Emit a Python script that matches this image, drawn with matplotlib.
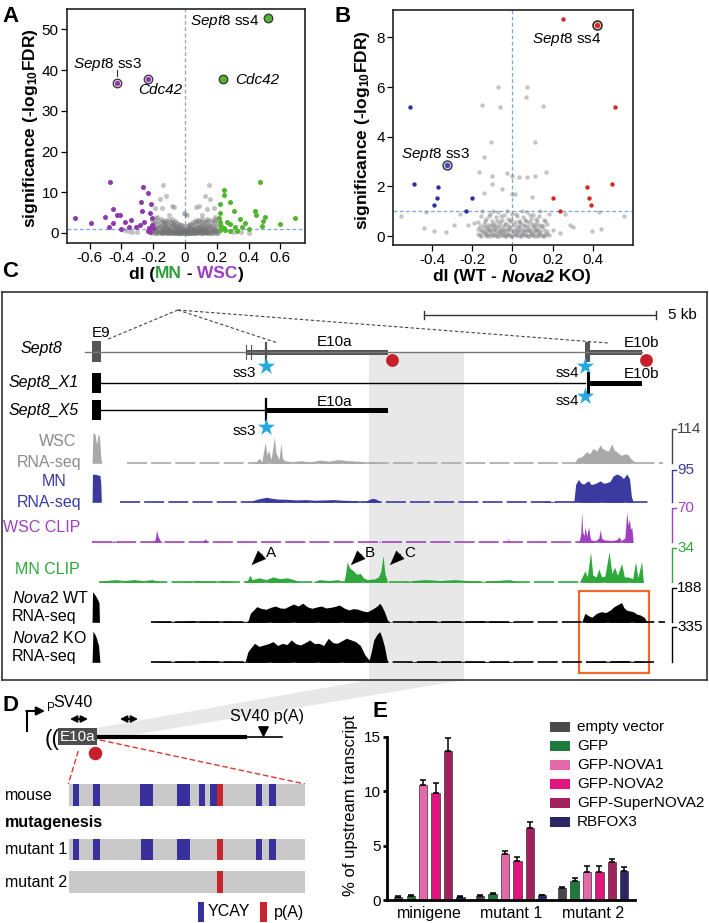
import matplotlib
matplotlib.use('Agg')
import matplotlib.pyplot as plt
from matplotlib.patches import Rectangle, Polygon
from matplotlib.offsetbox import TextArea, HPacker, AnnotationBbox

plt.rcParams['font.family'] = ['Liberation Sans', 'DejaVu Sans']
plt.rcParams['mathtext.fontset'] = 'custom'
plt.rcParams['mathtext.rm'] = 'Liberation Sans'
plt.rcParams['mathtext.it'] = 'Liberation Sans:italic'
plt.rcParams['mathtext.bf'] = 'Liberation Sans:bold'
plt.rcParams['axes.unicode_minus'] = False

PURPLE = '#8e3aad'
GREEN = '#52b52f'
RED = '#d22a1f'
BLUE = '#2d2f9a'
DASH = '#7ea6d8'

# ---------------- panel A: dI (MN - WSC) vs significance ----------------
a_purple_x = [-0.69, -0.59, -0.47, -0.50, -0.48, -0.45, -0.45, -0.43, -0.41, -0.40, -0.375, -0.354, -0.34, -0.31,
              -0.285, -0.277, -0.27, -0.264, -0.256, -0.233, -0.228, -0.218, -0.212, -0.208, -0.208, -0.20, -0.218, -0.233]
a_purple_y = [3.6, 2.4, 12.6, 4.0, 1.55, 5.8, 2.5, 4.3, 4.3, 0.9, 2.6, 1.4, 3.2, 1.4,
              2.0, 7.5, 5.5, 11.2, 2.8, 9.9, 1.15, 4.8, 7.1, 3.6, 2.0, 1.15, 0.3, 0.5]
a_green_x = [0.474, 0.247, 0.247, 0.281, 0.218, 0.306, 0.218, 0.442, 0.448, 0.505, 0.348, 0.264, 0.285, 0.38, 0.49,
             0.484, 0.222, 0.226, 0.243, 0.317, 0.358, 0.40, 0.60, 0.694, 0.212, 0.218, 0.254, 0.285, 0.327]
a_green_y = [12.6, 10.6, 9.3, 7.5, 7.1, 5.5, 5.0, 5.5, 4.4, 4.0, 3.4, 2.8, 2.2, 2.5, 3.0,
             1.7, 2.8, 1.7, 1.15, 1.4, 1.4, 0.9, 2.2, 3.6, 3.6, 0.74, 0.74, 0.57, 0.57]
a_sparse_x = [-0.14, -0.12, -0.155, -0.082, -0.067, -0.187, -0.145, -0.10, 0.149, 0.128, 0.159, 0.086, 0.071, 0.18,
              0.138, 0.107, -0.004, 0.013, -0.176, 0.19, 0.40, -0.386, -0.333, 0.3, 0.35, -0.3, -0.36]
a_sparse_y = [11.8, 9.1, 8.3, 6.6, 6.3, 6.1, 6.1, 4.4, 11.8, 9.1, 8.3, 6.6, 6.3, 6.1,
              5.8, 4.4, 4.8, 4.4, 4.0, 4.0, 0.0, 0.74, 0.33, 0.3, 0.2, 0.25, 0.4]
a_core_x = [-0.21, -0.19, -0.18, -0.165, -0.15, -0.14, -0.13, -0.12, -0.11, -0.1, -0.09, -0.08, -0.07, -0.06, -0.05,
            -0.04, -0.03, -0.02, -0.01, 0.0, 0.01, 0.02, 0.03, 0.04, 0.05, 0.06, 0.07, 0.08, 0.09, 0.1, 0.11, 0.12,
            0.13, 0.14, 0.15, 0.165, 0.18, 0.19, 0.21]
a_core_x2 = [-0.2, -0.185, -0.17, -0.155, -0.145, -0.135, -0.125, -0.115, -0.105, -0.095, -0.085, -0.075, -0.065,
             -0.055, -0.045, -0.035, -0.025, -0.015, -0.005, 0.005, 0.015, 0.025, 0.035, 0.045, 0.055, 0.065, 0.075,
             0.085, 0.095, 0.105, 0.115, 0.125, 0.135, 0.145, 0.155, 0.17, 0.185, 0.2, 0.22]
a_core_y1 = [0.6, 1.0, 0.3, 0.8, 0.5, 1.2, 0.4, 0.9, 0.2, 0.7, 0.3, 1.1, 0.5, 0.2, 0.8, 0.4, 0.1, 0.6, 0.3, 0.2,
             0.1, 0.3, 0.5, 0.2, 0.7, 0.4, 0.9, 0.3, 0.6, 1.0, 0.4, 0.8, 0.3, 1.1, 0.5, 0.9, 0.4, 0.7, 1.0]
a_core_y2 = [1.8, 2.4, 1.5, 2.1, 1.7, 2.6, 1.4, 2.2, 1.9, 1.3, 2.5, 1.6, 2.0, 1.2, 1.8, 1.5, 1.1, 1.3, 1.0, 0.8,
             0.9, 1.2, 1.4, 1.0, 1.6, 1.3, 2.1, 1.5, 1.9, 1.2, 2.3, 1.7, 2.4, 1.4, 2.0, 1.6, 2.7, 1.8, 2.2]
a_core_y3 = [3.2, 2.8, 3.6, 2.9, 3.4, 3.0, 2.7, 3.3, 2.6, 3.1, 2.8, 3.5, 2.6, 2.9, 2.4, 2.2, 2.0, 1.9, 1.7, 4.6,
             1.8, 1.9, 2.1, 2.3, 2.6, 2.8, 3.3, 2.9, 3.1, 2.7, 3.4, 2.6, 2.9, 3.5, 3.0, 3.2, 2.8, 3.4, 3.1]
a_core_y4 = [0.0, 0.1, 0.0, 0.2, 0.05, 0.1, 0.0, 0.15, 0.05, 0.0, 0.1, 0.05, 0.0, 0.1, 0.05, 0.0, 0.02, 0.0, 0.05, 0.0,
             0.03, 0.0, 0.06, 0.0, 0.1, 0.02, 0.08, 0.0, 0.12, 0.05, 0.0, 0.1, 0.05, 0.15, 0.0, 0.1, 0.05, 0.2, 0.0]
a_core_y5 = [0.4, 0.7, 1.4, 0.3, 0.9, 0.6, 1.7, 0.35, 1.0, 0.5, 0.8, 0.3, 1.5, 0.6, 0.25, 0.9, 0.4, 0.7, 0.15, 0.5,
             0.3, 0.8, 0.2, 1.3, 0.45, 0.6, 0.2, 1.0, 0.35, 0.7, 1.4, 0.5, 0.9, 0.3, 1.2, 0.6, 1.0, 0.4, 0.8]
a_core_y6 = [2.2, 1.2, 0.1, 1.6, 0.0, 2.0, 0.3, 1.3, 0.05, 1.7, 0.2, 2.1, 0.0, 1.4, 0.1, 0.6, 0.0, 0.25, 0.4, 0.0,
             0.6, 0.1, 0.9, 0.05, 1.1, 0.0, 1.5, 0.15, 1.8, 0.0, 1.2, 0.2, 1.6, 0.05, 2.0, 0.1, 1.4, 0.0, 1.9]
# labelled events: x, y, fill, ring
a_hits = {'Sept8 ss4': (0.524, 52.9, GREEN, GREEN), 'Cdc42 up': (0.241, 37.8, GREEN, GREEN),
          'Sept8 ss3': (-0.43, 36.8, PURPLE, '#e3cdee'), 'Cdc42 down': (-0.231, 37.8, PURPLE, '#e3cdee')}

# ---------------- panel B: dI (WT - Nova2 KO) ----------------
b_red_x = [0.25, 0.51, 0.497, 0.37, 0.38, 0.39, 0.20, 0.235]
b_red_y = [8.74, 5.2, 2.09, 1.96, 1.54, 1.24, 1.54, 1.02]
b_blue_x = [-0.508, -0.49, -0.37, -0.378, -0.39, -0.20, -0.23]
b_blue_y = [5.2, 2.09, 1.96, 1.54, 1.24, 1.54, 1.02]
b_ss4 = (0.42, 8.48)
b_ss3 = (-0.325, 2.86)
b_sparse_x = [-0.07, 0.072, 0.068, -0.15, -0.062, 0.153, -0.108, 0.113, -0.143, -0.165, -0.103, -0.028, -0.003,
              0.03, 0.072, 0.11, 0.168, -0.103, -0.143, -0.05, -0.003, 0.013, 0.097, -0.553, -0.43, -0.44, -0.39,
              -0.29, -0.19, 0.397, 0.443, 0.555, 0.288, 0.235, 0.43, -0.26, -0.22, 0.26, 0.3, -0.33, 0.2]
b_sparse_y = [5.99, 5.99, 5.61, 5.26, 5.2, 5.25, 3.8, 3.8, 3.18, 2.59, 2.43, 2.52, 2.43,
              2.39, 2.39, 2.43, 2.58, 2.09, 1.72, 1.88, 1.69, 1.69, 1.56, 0.82, 0.95, 0.31, 0.21,
              0.44, 0.51, 0.2, 0.3, 0.82, 0.44, 0.13, 0.95, 0.9, 0.45, 0.9, 0.35, 0.15, 0.25]
b_core_x = [-0.17, -0.155, -0.14, -0.13, -0.12, -0.11, -0.1, -0.09, -0.08, -0.07, -0.06, -0.05, -0.04, -0.03, -0.02,
            -0.01, 0.0, 0.01, 0.02, 0.03, 0.04, 0.05, 0.06, 0.07, 0.08, 0.09, 0.1, 0.11, 0.12, 0.13, 0.14, 0.155, 0.17]
b_core_x2 = [-0.16, -0.15, -0.135, -0.125, -0.115, -0.105, -0.095, -0.085, -0.075, -0.065, -0.055, -0.045, -0.035,
             -0.025, -0.015, -0.005, 0.005, 0.015, 0.025, 0.035, 0.045, 0.055, 0.065, 0.075, 0.085, 0.095, 0.105,
             0.115, 0.125, 0.135, 0.15, 0.16, 0.18]
b_core_y1 = [0.1, 0.0, 0.15, 0.05, 0.1, 0.0, 0.2, 0.05, 0.1, 0.0, 0.15, 0.05, 0.1, 0.0, 0.1, 0.05, 0.0, 0.1, 0.05,
             0.15, 0.0, 0.1, 0.05, 0.2, 0.0, 0.1, 0.05, 0.15, 0.0, 0.1, 0.05, 0.0, 0.1]
b_core_y2 = [0.3, 0.25, 0.35, 0.2, 0.3, 0.25, 0.4, 0.3, 0.2, 0.35, 0.25, 0.3, 0.2, 0.3, 0.25, 0.35, 0.2, 0.3, 0.25,
             0.35, 0.3, 0.2, 0.4, 0.25, 0.3, 0.2, 0.35, 0.25, 0.3, 0.2, 0.35, 0.25, 0.2]
b_core_y3 = [0.55, 0.8, 0.5, 0.7, 0.45, 0.9, 0.6, 0.5, 0.75, 0.95, 0.55, 0.65, 0.85, 0.5, 0.7, 0.6, 0.9, 0.55, 0.8,
             0.6, 0.5, 0.75, 0.65, 0.95, 0.55, 0.7, 0.85, 0.5, 0.6, 0.8, 0.45, 0.65, 0.5]
b_core_y4 = [0.05, 0.2, 0.1, 0.0, 0.25, 0.1, 0.05, 0.3, 0.0, 0.15, 0.05, 0.2, 0.0, 0.1, 0.3, 0.0, 0.15, 0.05, 0.2,
             0.0, 0.1, 0.25, 0.05, 0.0, 0.2, 0.1, 0.0, 0.25, 0.05, 0.15, 0.0, 0.1, 0.05]
b_core_y5 = [0.4, 1.0, 0.6, 0.35, 0.8, 0.45, 1.0, 0.4, 0.6, 0.45, 0.8, 0.4, 0.5, 1.0, 0.4, 0.65, 0.45, 0.9, 0.4,
             0.55, 1.0, 0.45, 0.6, 0.4, 0.85, 0.5, 0.4, 0.7, 0.45, 1.0, 0.4, 0.6, 0.9]

# ---------------- panel C: Sept8 locus (positions in kb from E9) ----------------
kb_e9 = (0.0, 0.19)
kb_e10a = (3.32, 6.38)
kb_alt = [3.32, 3.43]
kb_ss3 = 3.75
kb_ss4 = 10.63
kb_e10b = (10.73, 11.85)
kb_pa = [6.47, 11.93]
kb_shade = (5.97, 8.02)
kb_box = (10.5, 12.0)
kb_scale = (7.16, 12.16)
kb_arrows = {'A': 3.44, 'B': 5.58, 'C': 6.42}

wsc_rna_pos = [0.0, 0.02, 0.06, 0.1, 0.13, 0.16, 0.19, 0.21,
               3.45, 3.55, 3.6, 3.66, 3.73, 3.77, 3.8, 3.86, 3.93, 3.96, 3.99, 4.03, 4.07, 4.1, 4.15, 4.3, 4.5,
               4.7, 4.9, 5.1, 5.3, 5.5, 5.7, 5.9, 6.1, 6.25,
               10.4, 10.45, 10.55, 10.66, 10.72, 10.8, 10.87, 10.95, 11.0, 11.06, 11.12, 11.2, 11.25, 11.3, 11.4,
               11.49, 11.55, 11.62, 11.66, 11.74]
wsc_rna_val = [0, 114, 112, 70, 110, 100, 20, 0,
               0, 8, 19, 6, 80, 30, 50, 15, 100, 40, 30, 15, 76, 20, 10, 6, 10, 5, 12, 8, 14, 10, 8, 6, 5, 0,
               0, 19, 25, 44, 35, 57, 45, 69, 55, 50, 45, 73, 50, 44, 30, 36, 32, 15, 10, 0]
mn_rna_pos = [0.0, 0.01, 0.1, 0.17, 0.19, 0.2,
              3.42, 3.5, 3.6, 3.7, 3.76, 3.85, 4.0, 4.2, 4.4, 4.6, 4.8, 5.0, 5.2, 5.4, 5.6, 5.8, 5.86, 5.92, 6.0,
              6.08, 6.15, 6.21,
              9.72, 9.75, 10.0, 10.02,
              10.38, 10.42, 10.48, 10.53, 10.59, 10.65, 10.7, 10.75, 10.8, 10.88, 10.95, 11.02, 11.09, 11.16,
              11.23, 11.31, 11.38, 11.45, 11.52, 11.58, 11.62, 11.66]
mn_rna_val = [0, 95, 93, 90, 60, 0,
              0, 8, 12, 15, 17, 14, 11, 10, 8, 9, 7, 8, 9, 7, 6, 5, 0, 5, 12, 13, 8, 0,
              0, 3, 3, 0,
              0, 60, 77, 65, 61, 68, 72, 60, 61, 66, 72, 64, 66, 70, 89, 95, 90, 80, 95, 80, 20, 0]
wsc_clip_pos = [0.4, 0.46, 0.52, 1.3, 1.36, 1.39, 1.42, 1.47, 1.52, 2.38, 2.44, 2.5, 3.96, 3.98, 4.0, 5.36, 5.38,
                5.4, 6.18, 6.2, 6.22, 8.95, 8.97, 8.99,
                10.45, 10.5, 10.53, 10.55, 10.57, 10.6, 10.62, 10.66, 10.7, 10.73, 10.75, 10.85, 10.92, 10.95,
                10.98, 11.02, 11.2, 11.3, 11.36, 11.4, 11.48, 11.52, 11.55, 11.58, 11.6, 11.63, 11.66]
wsc_clip_val = [0, 4, 0, 0, 6, 29, 14, 4, 0, 0, 8, 0, 0, 3, 0, 0, 3, 0, 0, 4, 0, 0, 9, 0,
                0, 4, 20, 70, 25, 15, 35, 15, 36, 12, 5, 4, 10, 29, 10, 6, 4, 6, 12, 4, 10, 70, 40, 54, 30, 35, 0]
mn_clip_pos = [0.14, 0.3, 0.5, 0.7, 0.9, 1.1, 1.3, 1.48, 1.9, 2.2, 2.5, 2.8, 3.06, 3.3, 3.36, 3.4, 3.45, 3.6, 3.75,
               3.9, 4.05, 4.2, 4.35, 4.48, 4.74, 4.9, 5.1, 5.3, 5.42, 5.45, 5.5, 5.55, 5.63, 5.7, 5.78, 5.85, 5.93,
               6.1, 6.17, 6.22, 6.27, 6.31, 6.37, 6.7, 6.9, 7.2, 7.5, 7.8, 8.1, 8.4, 8.7, 9.0, 9.2,
               10.5, 10.55, 10.62, 10.67, 10.74, 10.79, 10.86, 10.92, 10.98, 11.05, 11.14, 11.2, 11.26, 11.32,
               11.41, 11.47, 11.55, 11.65, 11.71, 11.76, 11.84, 11.88]
mn_clip_val = [0, 2, 3, 2, 3, 2, 3, 0, 0, 2, 1, 2, 0, 0, 3, 8, 3, 5, 3, 6, 4, 5, 3, 0, 0, 3, 2, 3, 0, 6, 23, 16,
               13, 9, 10, 5, 3, 4, 6, 12, 30, 10, 0, 0, 2, 3, 2, 3, 2, 1, 2, 3, 0,
               0, 5, 13, 6, 34, 8, 6, 15, 6, 7, 34, 10, 17, 8, 21, 6, 6, 4, 23, 5, 23, 0]
wt_pos = [0.0, 0.01, 0.06, 0.12, 0.15, 0.16,
          1.28, 1.4, 1.6, 1.9, 2.2, 2.5, 2.8, 3.1, 3.36,
          3.41, 3.55, 3.65, 3.75, 3.85, 3.95, 4.05, 4.15, 4.25, 4.34, 4.44, 4.54, 4.64, 4.74, 4.84, 4.94, 5.04,
          5.14, 5.24, 5.33, 5.43, 5.53, 5.63, 5.73, 5.83, 5.93, 6.0, 6.07, 6.14, 6.2, 6.25, 6.3, 6.37, 6.45,
          6.72, 6.9, 7.2, 7.5, 7.8, 8.1, 8.4, 8.7, 9.0, 9.2,
          10.55, 10.62, 10.7, 10.77, 10.87, 10.97, 11.07, 11.17, 11.24, 11.31, 11.41, 11.46, 11.51, 11.58, 11.66,
          11.74, 11.81, 11.9, 11.96]
wt_val = [0, 188, 170, 140, 120, 0,
          0, 5, 8, 5, 10, 6, 9, 5, 6,
          55, 96, 85, 80, 92, 100, 88, 86, 100, 112, 100, 117, 95, 86, 94, 100, 88, 92, 98, 106, 88, 76, 84, 80,
          70, 65, 75, 86, 100, 117, 95, 65, 10, 0,
          0, 8, 10, 6, 9, 6, 10, 7, 5, 0,
          0, 55, 40, 31, 55, 65, 60, 76, 95, 106, 121, 90, 76, 70, 65, 50, 45, 30, 0]
ko_pos = [0.0, 0.02, 0.08, 0.14, 0.17,
          1.28, 1.5, 1.8, 2.1, 2.4, 2.7, 3.0, 3.3,
          3.36, 3.43, 3.5, 3.6, 3.7, 3.8, 3.9, 4.0, 4.1, 4.2, 4.29, 4.39, 4.49, 4.59, 4.69, 4.79, 4.89, 4.99,
          5.09, 5.19, 5.28, 5.38, 5.48, 5.58, 5.68, 5.78, 5.88, 5.97, 6.02, 6.07, 6.14, 6.2, 6.25, 6.3, 6.35, 6.37,
          6.7, 7.0, 7.3, 7.6, 7.9, 8.2, 8.6, 9.0, 9.2,
          10.6, 10.8, 11.0, 11.2, 11.4, 11.6, 11.8, 11.96]
ko_val = [0, 335, 280, 180, 0,
          0, 8, 12, 10, 20, 15, 8, 10,
          114, 160, 203, 170, 185, 200, 221, 180, 203, 190, 239, 200, 185, 210, 239, 200, 203, 180, 257, 210,
          203, 230, 257, 240, 221, 180, 78, 25, 120, 239, 300, 328, 260, 168, 40, 0,
          0, 10, 15, 8, 12, 10, 8, 10, 0,
          0, 10, 14, 10, 18, 12, 10, 0]

# ---------------- panel D: minigene stripes (% of fragment) ----------------
d_rows = ['mouse', 'mutant 1', 'mutant 2']
ycay_mouse = [(1.6, 2.6), (10.3, 2.8), (30.1, 5.4), (45.9, 5.4), (55.1, 2.5), (59.7, 2.9), (79.1, 2.8), (84.9, 2.8)]
ycay_mut1 = [(1.6, 2.6), (10.3, 2.8), (30.5, 5.0), (45.9, 5.4), (79.1, 2.8), (84.9, 2.8)]
ycay_mut2 = []
pa_site = [(62.6, 2.8)]

# ---------------- panel E: % of upstream transcript ----------------
e_groups = ['minigene', 'mutant 1', 'mutant 2']
e_series = ['empty vector', 'GFP', 'GFP-NOVA1', 'GFP-NOVA2', 'GFP-SuperNOVA2', 'RBFOX3']
e_colors = ['#4a4a4a', '#1d7a3c', '#e569a9', '#e2157f', '#a3215f', '#2b2766']
e_vals = [[0.30, 0.40, 1.13], [0.37, 0.55, 1.74], [10.55, 4.19, 2.54],
          [9.79, 3.61, 2.54], [13.67, 6.57, 3.46], [0.30, 0.43, 2.66]]
e_err = [[0.05, 0.08, 0.06], [0.05, 0.06, 0.25], [0.5, 0.35, 0.6],
         [0.97, 0.3, 0.6], [1.16, 0.6, 0.27], [0.04, 0.05, 0.34]]

W, H = 709, 923
fig = plt.figure(figsize=(W / 100, H / 100), dpi=100)


def box(x0, y0, x1, y1):
    return [x0 / W, 1 - y1 / H, (x1 - x0) / W, (y1 - y0) / H]


ov = fig.add_axes([0, 0, 1, 1])
ov.set_xlim(0, W)
ov.set_ylim(H, 0)
ov.axis('off')


def volcano_frame(ax, xt, yt):
    ax.patch.set_alpha(0)
    for s in ax.spines.values():
        s.set_linewidth(1.2)
        s.set_color('#222')
    ax.set_xticks(xt)
    ax.set_xticklabels([f'{v:g}' for v in xt])
    ax.set_yticks(yt)
    ax.set_yticklabels([f'{v:g}' for v in yt])
    ax.tick_params(labelsize=11, length=4, width=0.9, pad=2)
    ax.axhline(1, color=DASH, lw=0.9, ls=(0, (3, 2)), zorder=1)
    ax.axvline(0, color=DASH, lw=0.9, ls=(0, (3, 2)), zorder=1)


def colour_label(x, y, parts, size=12.5):
    boxes = [TextArea(t, textprops=dict(color=c, fontsize=size, fontweight='bold', fontstyle=st))
             for t, c, st in parts]
    pack = HPacker(children=boxes, align='baseline', pad=0, sep=0)
    ov.add_artist(AnnotationBbox(pack, (x, y), xycoords='data', frameon=False,
                                 box_alignment=(0.5, 0.5), pad=0))


# ---- A ----
axA = fig.add_axes(box(67, 9, 305, 243))
axA.set_xlim(-0.742, 0.755)
axA.set_ylim(-2.46, 55.0)
volcano_frame(axA, [-0.6, -0.4, -0.2, 0, 0.2, 0.4, 0.6], [0, 10, 20, 30, 40, 50])
gray_kw = dict(s=13, c='#727272', alpha=0.42, linewidths=0, zorder=2)
axA.scatter(a_sparse_x, a_sparse_y, **gray_kw)
for ys in (a_core_y1, a_core_y2, a_core_y3, a_core_y4):
    axA.scatter(a_core_x, ys, **gray_kw)
for ys in (a_core_y5, a_core_y6):
    axA.scatter(a_core_x2, ys, **gray_kw)
axA.scatter(a_purple_x, a_purple_y, s=13, c=PURPLE, linewidths=0, zorder=3)
axA.scatter(a_green_x, a_green_y, s=13, c=GREEN, linewidths=0, zorder=3)
for name, (x, y, c, ring) in a_hits.items():
    axA.scatter([x], [y], s=38, c=ring, edgecolors='#333', linewidths=0.9, zorder=4)
    axA.scatter([x], [y], s=14, c=c, linewidths=0, zorder=5)
axA.plot([-0.43, -0.43], [38.5, 40.0], color='#333', lw=0.8)
axA.text(0.47, 51.9, r'$\mathit{Sept8}$ ss4', fontsize=11, ha='right', va='center')
axA.text(-0.487, 41.3, r'$\mathit{Sept8}$ ss3', fontsize=11, ha='center', va='center')
axA.text(-0.154, 35.0, 'Cdc42', fontsize=11, fontstyle='italic', ha='center', va='center')
axA.text(0.314, 37.6, 'Cdc42', fontsize=11, fontstyle='italic', ha='left', va='center')

# ---- B ----
axB = fig.add_axes(box(393, 10, 633, 245))
axB.set_xlim(-0.595, 0.6)
axB.set_ylim(-0.36, 9.1)
volcano_frame(axB, [-0.4, -0.2, 0, 0.2, 0.4], [0, 2, 4, 6, 8])
gray_kw = dict(s=10, c='#8a8a8a', alpha=0.5, linewidths=0, zorder=2)
axB.scatter(b_sparse_x, b_sparse_y, **gray_kw)
for ys in (b_core_y1, b_core_y2, b_core_y3):
    axB.scatter(b_core_x, ys, **gray_kw)
for ys in (b_core_y4, b_core_y5):
    axB.scatter(b_core_x2, ys, **gray_kw)
axB.scatter(b_red_x, b_red_y, s=10, c=RED, linewidths=0, zorder=3)
axB.scatter(b_blue_x, b_blue_y, s=10, c=BLUE, linewidths=0, zorder=3)
axB.scatter([b_ss4[0]], [b_ss4[1]], s=42, c='#f2c2bc', edgecolors='#222', linewidths=1.1, zorder=4)
axB.scatter([b_ss4[0]], [b_ss4[1]], s=14, c=RED, linewidths=0, zorder=5)
axB.scatter([b_ss3[0]], [b_ss3[1]], s=42, c='#c9cbee', edgecolors='#333', linewidths=1.0, zorder=4)
axB.scatter([b_ss3[0]], [b_ss3[1]], s=14, c='#4448a8', linewidths=0, zorder=5)
axB.text(0.268, 7.92, r'$\mathit{Sept8}$ ss4', fontsize=11, ha='center', va='center')
axB.text(-0.382, 3.3, r'$\mathit{Sept8}$ ss3', fontsize=11, ha='center', va='center')

ylab = r'significance (-log$_{\mathbf{10}}$FDR)'
ov.text(31, 128, ylab, rotation=90, fontsize=12.5, fontweight='bold', ha='center', va='center')
ov.text(362, 130, ylab, rotation=90, fontsize=12.5, fontweight='bold', ha='center', va='center')
colour_label(186, 274, [('dI (', 'k', 'normal'), ('MN', '#2e9e3e', 'normal'), (' -', 'k', 'normal'),
                        (' WSC', '#9b3fbf', 'normal'), (')', 'k', 'normal')])
colour_label(512, 277, [('dI (WT -', 'k', 'normal'), (' Nova2', 'k', 'italic'), (' KO)', 'k', 'normal')])

# ---- C ----
c_xlim = (-1.94, 13.25)
axc = fig.add_axes(box(2, 292, 707, 680))
axc.set_xlim(*c_xlim)
axc.set_ylim(680, 292)
axc.set_xticks([])
axc.set_yticks([])
axc.patch.set_alpha(0)
for s in axc.spines.values():
    s.set_linewidth(1.2)
    s.set_color('#333')
axc.add_patch(Rectangle((kb_shade[0], 352), kb_shade[1] - kb_shade[0], 330, fc='#e8e8e8', ec='none', zorder=0))
# scale bar
axc.plot(kb_scale, [315, 315], color='#333', lw=1)
for k in kb_scale:
    axc.plot([k, k], [311, 319], color='#333', lw=1)
# dashed zoom lines
for ex, ey in [(0.3, 340), (4.0, 343), (11.12, 343)]:
    axc.plot([1.85, ex], [310, ey], color='#444', lw=0.8, ls=(0, (3, 2)))
# Sept8 model
G = '#555555'
axc.plot([-0.15, kb_e10b[1]], [352, 352], color='#777', lw=1)
axc.add_patch(Rectangle((kb_e9[0], 341), kb_e9[1] - kb_e9[0], 21, fc=G, ec='none'))
for k in kb_alt:
    axc.plot([k, k], [345, 359], color=G, lw=0.8)
axc.plot([kb_ss3, kb_ss3], [343, 361], color=G, lw=1.6)
axc.add_patch(Rectangle((kb_e10a[0], 349.5), kb_e10a[1] - kb_e10a[0], 5.5, fc=G, ec='none'))
axc.add_patch(Rectangle((kb_ss4, 342), kb_e10b[0] - kb_ss4, 20, fc=G, ec='none'))
axc.add_patch(Rectangle((kb_e10b[0], 349.5), kb_e10b[1] - kb_e10b[0], 5.5, fc=G, ec='none'))
axc.scatter(kb_pa, [360, 360], s=85, c='#c8202a', linewidths=0, zorder=5)
# Sept8_X1
axc.plot([kb_e9[1], kb_ss4], [383, 383], color='k', lw=1)
axc.add_patch(Rectangle((kb_e9[0], 373), kb_e9[1] - kb_e9[0], 20, fc='k', ec='none'))
axc.plot([kb_ss4 + 0.05, kb_ss4 + 0.05], [373, 392], color='k', lw=2.2)
axc.add_patch(Rectangle((kb_e10b[0], 381), kb_e10b[1] - kb_e10b[0], 4.5, fc='k', ec='none'))
# Sept8_X5
axc.plot([kb_e9[1], kb_ss3], [410, 410], color='k', lw=1)
axc.add_patch(Rectangle((kb_e9[0], 400), kb_e9[1] - kb_e9[0], 20, fc='k', ec='none'))
axc.plot([kb_ss3, kb_ss3], [399, 420], color='k', lw=1.6)
axc.add_patch(Rectangle((kb_ss3, 408), kb_e10a[1] - kb_ss3, 4.5, fc='k', ec='none'))
axc.scatter([kb_ss3, kb_ss4, kb_ss4, kb_ss3], [366, 366, 396, 427], marker='*', s=170,
            c='#26a9dc', linewidths=0, zorder=6)
for txt, x, y in [('E9', 0.19, 333), ('E10a', 5.23, 342), ('E10b', 11.83, 343), ('E10b', 11.83, 374),
                  ('E10a', 5.23, 402), ('ss3', 3.28, 373), ('ss4', 10.25, 373), ('ss4', 10.25, 401),
                  ('ss3', 3.28, 431)]:
    axc.text(x, y, txt, fontsize=11, ha='center', va='center')
axc.add_patch(Rectangle((kb_box[0], 591), kb_box[1] - kb_box[0], 82, fill=False, ec='#ee6a2c', lw=1.6, zorder=5))
for lab, k in kb_arrows.items():
    axc.annotate('', xy=(k, 565), xytext=(k + 0.24, 554),
                 arrowprops=dict(arrowstyle='-|>,head_length=1.0,head_width=0.4', fc='k', ec='k', lw=0.3,
                                 shrinkA=0, shrinkB=0))
    axc.text(k + 0.3, 553, lab, fontsize=11, ha='left', va='center')

tracks = [
    (wsc_rna_pos, wsc_rna_val, 114, '#a9a9a9', '#444444', 433, 463.3, (0.75, 12.3)),
    (mn_rna_pos, mn_rna_val, 95, '#3b3aa0', '#3b3aa0', 474, 502.3, (0.6, 12.05)),
    (wsc_clip_pos, wsc_clip_val, 70, '#a040c0', '#a040c0', 512, 542.3, (0.0, 11.66)),
    (mn_clip_pos, mn_clip_val, 34, '#2ea83a', '#2ea83a', 552, 582.3, (0.14, 11.9)),
    (wt_pos, wt_val, 188, '#000000', '#000000', 591.7, 622.3, (1.28, 12.35)),
    (ko_pos, ko_val, 335, '#000000', '#000000', 631, 662.3, (1.28, 12.1)),
]
for pos, val, vmax, col, lcol, top, base, span in tracks:
    at = fig.add_axes(box(2, top, 707, base))
    at.set_xlim(*c_xlim)
    at.set_ylim(0, vmax)
    at.axis('off')
    at.fill_between(pos, val, 0, color=col, lw=0)
    at.plot(span, [0, 0], color=col, lw=1.2, ls=(0, (12, 2.5)), clip_on=False)
    ov.plot([672, 672, 676], [base, top - 4, top - 4], color=lcol, lw=1)
    ov.text(677, top - 4, str(vmax), color=lcol, fontsize=11, ha='left', va='center')

ov.text(668, 315, '5 kb', fontsize=11, ha='left', va='center')
ov.text(21, 348, 'Sept8', fontsize=11.5, fontstyle='italic', va='center')
ov.text(9, 383, 'Sept8_X1', fontsize=11.5, fontstyle='italic', va='center')
ov.text(9, 410, 'Sept8_X5', fontsize=11.5, fontstyle='italic', va='center')
for txt, x, y, ha, c in [('WSC', 58, 442, 'center', '#8a8a8a'), ('RNA-seq', 49, 462, 'center', '#8a8a8a'),
                         ('MN', 54, 482, 'center', '#3b3aa0'), ('RNA-seq', 49, 502, 'center', '#3b3aa0'),
                         ('WSC CLIP', 80, 527, 'right', '#a040c0'), ('MN CLIP', 80, 570, 'right', '#2ea83a'),
                         (r'$\mathit{Nova2}$ WT', 12, 598, 'left', 'k'), ('RNA-seq', 12, 617, 'left', 'k'),
                         (r'$\mathit{Nova2}$ KO', 12, 638, 'left', 'k'), ('RNA-seq', 12, 657, 'left', 'k')]:
    ov.text(x, y, txt, fontsize=11.5, ha=ha, va='center', color=c)

# ---- D ----
ov.add_patch(Polygon([(369, 680), (464, 680), (96.7, 741), (96.7, 728)], closed=True, fc='#e8e8e8', ec='none',
                     zorder=0))
ov.plot([27, 27], [731, 711], color='k', lw=1.5)
ov.annotate('', xy=(45, 711), xytext=(26.3, 711),
            arrowprops=dict(arrowstyle='-|>,head_length=0.5,head_width=0.25', color='k', lw=1.5,
                            shrinkA=0, shrinkB=0))
ov.text(47, 711, 'P', fontsize=8.5, va='baseline')
ov.text(53.5, 707, 'SV40', fontsize=11.5, va='baseline')
for xc in (79, 129):
    ov.annotate('', xy=(xc + 9, 719), xytext=(xc - 9, 719),
                arrowprops=dict(arrowstyle='<|-|>,head_length=0.4,head_width=0.2', color='k', lw=1.3,
                                shrinkA=0, shrinkB=0))
ov.text(52, 740, '((', fontsize=16, ha='center', va='center')
ov.add_patch(Rectangle((58.3, 728.3), 38.4, 16.7, fc='#4d4d4d', ec='none', zorder=3))
ov.text(77.5, 737, 'E10a', color='white', fontsize=11, ha='center', va='center', zorder=4)
ov.plot([96.7, 247], [737, 737], color='k', lw=3, solid_capstyle='butt')
ov.plot([247, 282], [737, 737], color='k', lw=1.2)
ov.scatter([263.3], [731], marker='v', s=45, c='k', zorder=4)
ov.text(267, 717, 'SV40 p(A)', fontsize=11.5, ha='center', va='center')
ov.scatter([95], [753], s=95, c='#c8202a', linewidths=0, zorder=4)
ov.plot([78.3, 68.3], [751, 784], color='#d63a30', lw=1, ls=(0, (4, 2)))
ov.plot([100, 305], [740, 784], color='#d63a30', lw=1, ls=(0, (4, 2)))

axd = fig.add_axes(box(69, 780, 305, 896))
axd.set_xlim(0, 100)
axd.set_ylim(896, 780)
axd.axis('off')
d_row_y = [794.8, 849.5, 881.7]
for yc, ycay in zip(d_row_y, [ycay_mouse, ycay_mut1, ycay_mut2]):
    axd.broken_barh([(0, 100)], (yc - 10.8, 21.6), facecolors='#c9c9c9')
    if ycay:
        axd.broken_barh(ycay, (yc - 10.8, 21.6), facecolors='#3a309c')
    axd.broken_barh(pa_site, (yc - 10.8, 21.6), facecolors='#c8262c')
for name, yc in zip(d_rows, d_row_y):
    ov.text(5, yc + 0.5, name, fontsize=11.5, va='center')
ov.text(5, 823, 'mutagenesis', fontsize=11.5, fontweight='bold', va='center')
ov.add_patch(Rectangle((198, 902), 5.5, 20, fc='#3a309c', ec='none'))
ov.text(208, 912, 'YCAY', fontsize=11.5, va='center')
ov.add_patch(Rectangle((260, 902), 6.5, 20, fc='#c8262c', ec='none'))
ov.text(274, 912, 'p(A)', fontsize=11.5, va='center')

# ---- E ----
axE = fig.add_axes(box(386.7, 730, 635, 900))
axE.patch.set_alpha(0)
axE.set_xlim(-0.52, 2.51)
axE.set_ylim(0, 15.6)
offs = [-0.38, -0.228, -0.076, 0.076, 0.228, 0.38]
for i, (name, col) in enumerate(zip(e_series, e_colors)):
    xs = [g + offs[i] for g in range(len(e_groups))]
    axE.bar(xs, e_vals[i], width=0.1, color=col, edgecolor='#333', linewidth=0.5, zorder=2)
    axE.errorbar(xs, e_vals[i], yerr=[[0] * len(xs), e_err[i]], fmt='none', ecolor='k',
                 elinewidth=1.1, capsize=2.5, capthick=1.1, zorder=3)
    ov.add_patch(Rectangle((550, 722 + 19 * i), 20, 10, fc=col, ec='none'))
    ov.text(577, 727 + 19 * i, name, fontsize=11, va='center')
for s in ('top', 'right'):
    axE.spines[s].set_visible(False)
axE.spines['left'].set_linewidth(2)
axE.spines['left'].set_bounds(0, 15)
axE.spines['bottom'].set_linewidth(2)
axE.set_yticks([0, 5, 10, 15])
axE.set_xticks(range(len(e_groups)))
axE.set_xticklabels(e_groups)
axE.tick_params(axis='y', labelsize=11, length=3, width=2, pad=1.5)
axE.tick_params(axis='x', labelsize=11.5, length=0, pad=4)
ov.text(350, 805, '% of upstream transcript', rotation=90, fontsize=12, ha='center', va='center')

# panel letters
for lab, x, y in [('A', 2, 6), ('B', 335, 6), ('C', 2, 261), ('D', 2, 695), ('E', 372, 701)]:
    ov.text(x, y, lab, fontsize=16, fontweight='bold', ha='left', va='top')

fig.savefig('out.png', dpi=100)
